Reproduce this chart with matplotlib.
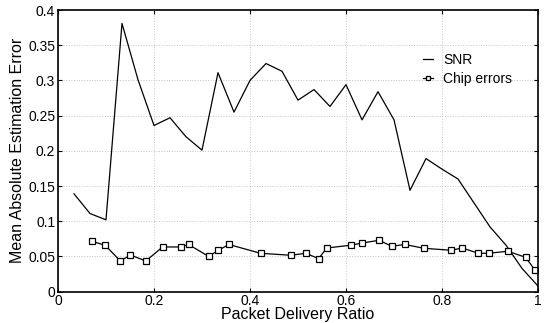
import matplotlib
matplotlib.use("Agg")
import matplotlib.pyplot as plt
import numpy as np

plt.rcParams['font.family'] = ['Liberation Sans', 'DejaVu Sans']

snr_x = [1/30, 2/30, 3/30, 4/30, 5/30, 6/30, 7/30, 8/30, 9/30, 10/30,
         11/30, 12/30, 13/30, 14/30, 15/30, 16/30, 17/30, 18/30, 19/30, 20/30,
         21/30, 22/30, 23/30, 24/30, 25/30, 26/30, 27/30, 28/30, 29/30, 30/30]
snr_y = [0.139, 0.111, 0.102, 0.381, 0.301, 0.236, 0.247, 0.220, 0.201, 0.311,
         0.255, 0.300, 0.324, 0.313, 0.272, 0.287, 0.263, 0.294, 0.244, 0.284,
         0.244, 0.144, 0.189, 0.174, 0.160, 0.126, 0.092, 0.066, 0.033, 0.008]

chip_x = [0.070, 0.098, 0.130, 0.151, 0.183, 0.218, 0.256, 0.272, 0.314, 0.334,
          0.356, 0.422, 0.485, 0.516, 0.543, 0.560, 0.610, 0.633, 0.669, 0.695,
          0.723, 0.762, 0.819, 0.842, 0.876, 0.897, 0.937, 0.974, 0.994]
chip_y = [0.0716, 0.066, 0.0436, 0.052, 0.0436, 0.0635, 0.0635, 0.067, 0.050, 0.0588,
          0.067, 0.0545, 0.0517, 0.0545, 0.047, 0.062, 0.066, 0.069, 0.073, 0.0645,
          0.067, 0.0616, 0.0588, 0.062, 0.0545, 0.0545, 0.0574, 0.0489, 0.0304]

xticks = [0, 0.2, 0.4, 0.6, 0.8, 1]
xticklabels = ['0', '0.2', '0.4', '0.6', '0.8', '1']
yticks = [0, 0.05, 0.1, 0.15, 0.2, 0.25, 0.3, 0.35, 0.4]
yticklabels = ['0', '0.05', '0.1', '0.15', '0.2', '0.25', '0.3', '0.35', '0.4']

fig = plt.figure(figsize=(5.44, 3.23), dpi=100)
ax = fig.add_axes([0.1066, 0.097, 0.8824, 0.872])

ax.plot(snr_x, snr_y, color='black', lw=0.9, label='SNR')
ax.plot(chip_x, chip_y, color='black', lw=0.9, marker='s', markersize=4,
        markerfacecolor='white', markeredgecolor='black', markeredgewidth=0.9,
        label='Chip errors')

ax.set_xlim(0, 1)
ax.set_ylim(0, 0.4)
ax.set_xticks(xticks)
ax.set_xticklabels(xticklabels, fontsize=10)
ax.set_yticks(yticks)
ax.set_yticklabels(yticklabels, fontsize=10)
ax.tick_params(direction='in', top=True, right=True, length=3, width=0.8, pad=2)
ax.grid(True, linestyle=':', color='#c4c4c4', lw=0.7)
for s in ax.spines.values():
    s.set_linewidth(1.2)

ax.set_xlabel('Packet Delivery Ratio', fontsize=11.5, labelpad=-1)
ax.set_ylabel('Mean Absolute Estimation Error', fontsize=11.5, labelpad=2)

leg = ax.legend(loc='upper left', bbox_to_anchor=(0.760, 0.847), frameon=False,
                fontsize=10, handlelength=0.75, handletextpad=0.7, labelspacing=0.37,
                borderpad=0, borderaxespad=0, markerscale=0.8)

fig.savefig('out.png', dpi=100)
